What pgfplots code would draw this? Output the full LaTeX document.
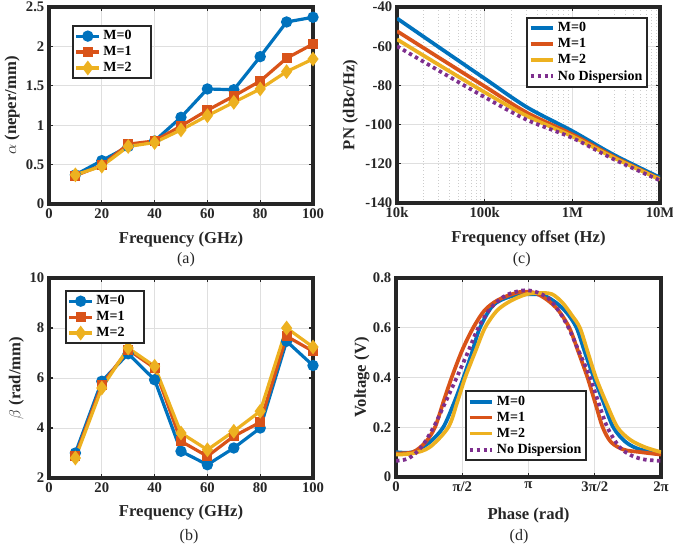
\documentclass[border=0pt]{standalone}
\usepackage{fontspec}
\setmainfont{Liberation Serif}
\usepackage{pgfplots}
\pgfplotsset{compat=1.18}
\definecolor{mblue}{RGB}{0,114,189}
\definecolor{mred}{RGB}{217,83,25}
\definecolor{myel}{RGB}{237,177,32}
\definecolor{mpur}{RGB}{126,47,142}
\definecolor{mgray}{RGB}{38,38,38}

\pgfplotsset{
  mat/.style={
    scale only axis,
    axis line style={mgray, line width=2.9pt},
    tick style={mgray, line width=0.8pt},
    major tick length=3pt,
    minor tick length=0pt,
    tick align=inside,
    grid=major,
    major grid style={gray!25, line width=0.7pt},
    ticklabel style={font=\bfseries\fontsize{11}{13}\selectfont, text=mgray},
    label style={font=\bfseries\fontsize{12.5}{15}\selectfont, text=mgray},
    legend style={font=\bfseries\fontsize{10.5}{12}\selectfont, draw=mgray,
                  line width=1.3pt, fill=white, inner sep=1.5pt, row sep=-0.5pt},
    legend cell align=left,
    /pgf/number format/assume math mode=true,
  },
  mk0/.style={mblue, line width=2.4pt, mark=*, mark size=3pt, mark options={solid, fill=mblue}},
  mk1/.style={mred, line width=2.4pt, mark=square*, mark size=2.6pt, mark options={solid, fill=mred}},
  mk2/.style={myel, line width=2.4pt, mark=diamond*, mark size=3.6pt, mark options={solid, fill=myel}},
  wideleg/.style={legend style={cells={anchor=west, text width=32pt}}},
}

\begin{document}
\begin{tikzpicture}
\useasboundingbox (0,0) rectangle (504.75pt,413.25pt);

%% (a) attenuation
\begin{axis}[mat, wideleg, at={(36.75pt,260.25pt)}, anchor=south west,
    width=198pt, height=147.75pt,
    xmin=0, xmax=100, ymin=0, ymax=2.5,
    xtick={0,20,40,60,80,100},
    ytick={0,0.5,1,1.5,2,2.5}, yticklabels={0,0.5,1,1.5,2,2.5},
    xlabel={Frequency (GHz)}, ylabel={$\alpha$ (neper/mm)},
    xlabel style={at={(axis description cs:0.5,-0.178)}, anchor=center},
    ylabel style={at={(axis description cs:-0.14,0.5)}, anchor=center},
    legend style={at={(0.087,0.909)}, anchor=north west},
]
\addplot[mk0] coordinates {(10,0.37)(20,0.55)(30,0.73)(40,0.80)(50,1.10)(60,1.46)(70,1.45)(80,1.87)(90,2.31)(100,2.37)};
\addplot[mk1] coordinates {(10,0.36)(20,0.49)(30,0.76)(40,0.80)(50,0.99)(60,1.19)(70,1.37)(80,1.56)(90,1.85)(100,2.03)};
\addplot[mk2] coordinates {(10,0.37)(20,0.48)(30,0.73)(40,0.78)(50,0.94)(60,1.12)(70,1.29)(80,1.46)(90,1.68)(100,1.84)};
\legend{M=0,M=1,M=2}
\end{axis}

%% (c) phase noise
\begin{axis}[mat, at={(297.75pt,261pt)}, anchor=south west,
    width=197.25pt, height=147pt,
    xmode=log, xmin=1e4, xmax=1e7, ymin=-140, ymax=-40,
    xtick={1e4,1e5,1e6,1e7}, xticklabels={10k,100k,1M,10M},
    minor xtick={2e4,3e4,4e4,5e4,6e4,7e4,8e4,9e4,2e5,3e5,4e5,5e5,6e5,7e5,8e5,9e5,2e6,3e6,4e6,5e6,6e6,7e6,8e6,9e6},
    ytick={-140,-120,-100,-80,-60,-40}, yticklabels={-140,-120,-100,-80,-60,-40},
    grid=both, minor grid style={gray!40, dotted, line width=0.6pt},
    xlabel={Frequency offset (Hz)}, ylabel={PN (dBc/Hz)},
    xlabel style={at={(axis description cs:0.5,-0.179)}, anchor=center},
    ylabel style={at={(axis description cs:-0.177,0.5)}, anchor=center},
    legend style={at={(0.954,0.949)}, anchor=north east},
]
\addplot[mblue, line width=2.8pt, smooth] coordinates {(1e4,-45.8)(3e4,-60.5)(1e5,-76.5)(3e5,-91)(1e6,-103.3)(3e6,-115.5)(1e7,-127)};
\addplot[mred, line width=2.8pt, smooth] coordinates {(1e4,-52.3)(3e4,-65.8)(1e5,-80.5)(3e5,-93.8)(1e6,-105)(3e6,-116.5)(1e7,-127.8)};
\addplot[myel, line width=2.8pt, smooth] coordinates {(1e4,-56.5)(3e4,-69.5)(1e5,-83.5)(3e5,-95.5)(1e6,-106)(3e6,-117)(1e7,-128)};
\addplot[mpur, line width=2.8pt, dash pattern=on 2.6pt off 2.6pt, smooth] coordinates {(1e4,-60)(3e4,-72.5)(1e5,-86)(3e5,-97.5)(1e6,-106.8)(3e6,-117.8)(1e7,-128.5)};
\legend{M=0,M=1,M=2,No Dispersion}
\end{axis}

%% (b) phase constant
\begin{axis}[mat, wideleg, at={(36.75pt,54.75pt)}, anchor=south west,
    width=198pt, height=150pt,
    xmin=0, xmax=100, ymin=2, ymax=10,
    xtick={0,20,40,60,80,100},
    ytick={2,4,6,8,10},
    xlabel={Frequency (GHz)}, ylabel={$\beta$ (rad/mm)},
    xlabel style={at={(axis description cs:0.5,-0.175)}, anchor=center},
    ylabel style={at={(axis description cs:-0.124,0.5)}, anchor=center},
    legend style={at={(0.06,0.94)}, anchor=north west},
]
\addplot[mk0] coordinates {(10,3.0)(20,5.87)(30,6.97)(40,5.93)(50,3.07)(60,2.53)(70,3.2)(80,4.0)(90,7.47)(100,6.5)};
\addplot[mk1] coordinates {(10,2.87)(20,5.73)(30,7.13)(40,6.4)(50,3.47)(60,2.87)(70,3.67)(80,4.23)(90,7.67)(100,7.07)};
\addplot[mk2] coordinates {(10,2.8)(20,5.6)(30,7.2)(40,6.47)(50,3.8)(60,3.13)(70,3.87)(80,4.67)(90,8.0)(100,7.24)};
\legend{M=0,M=1,M=2}
\end{axis}

%% (d) voltage waveform
\begin{axis}[mat, at={(297pt,55.5pt)}, anchor=south west,
    width=198.75pt, height=149.25pt,
    xmin=0, xmax=6.28319, ymin=0, ymax=0.8,
    xtick={0,1.5708,3.14159,4.71239,6.28319}, xticklabels={0,π/2,π,3π/2,2π},
    ytick={0,0.2,0.4,0.6,0.8}, yticklabels={0,0.2,0.4,0.6,0.8},
    xlabel={Phase (rad)}, ylabel={Voltage (V)},
    xlabel style={at={(axis description cs:0.5,-0.191)}, anchor=center},
    ylabel style={at={(axis description cs:-0.129,0.5)}, anchor=center},
    legend style={at={(0.26,0.08)}, anchor=south west},
]
\addplot[mblue, line width=2.8pt, smooth, tension=0.5] coordinates {(0,0.10)(0.4,0.10)(0.8,0.14)(1.12,0.2)(1.38,0.3)(1.60,0.4)(1.80,0.5)(1.99,0.6)(2.3,0.69)(2.7,0.725)(3.14,0.735)(3.5,0.73)(3.8,0.70)(4.05,0.66)(4.28,0.6)(4.48,0.5)(4.69,0.4)(4.92,0.3)(5.15,0.2)(5.45,0.14)(5.8,0.11)(6.283,0.10)};
\addplot[mred, line width=2.8pt, smooth, tension=0.5] coordinates {(0,0.095)(0.4,0.10)(0.7,0.14)(0.925,0.2)(1.12,0.30)(1.32,0.4)(1.57,0.51)(1.83,0.6)(2.1,0.67)(2.4,0.71)(2.75,0.735)(3.0,0.745)(3.3,0.74)(3.6,0.71)(3.85,0.67)(4.11,0.6)(4.33,0.5)(4.54,0.4)(4.72,0.3)(4.90,0.2)(5.1,0.14)(5.4,0.11)(5.8,0.10)(6.283,0.09)};
\addplot[myel, line width=2.8pt, smooth, tension=0.5] coordinates {(0,0.09)(0.4,0.095)(0.8,0.12)(1.24,0.2)(1.45,0.3)(1.64,0.4)(1.87,0.5)(2.11,0.6)(2.4,0.67)(2.74,0.71)(3.1,0.735)(3.4,0.74)(3.7,0.735)(3.95,0.70)(4.17,0.65)(4.36,0.6)(4.55,0.5)(4.74,0.4)(4.98,0.3)(5.25,0.2)(5.55,0.15)(5.9,0.12)(6.283,0.10)};
\addplot[mpur, line width=2.8pt, dash pattern=on 2.6pt off 2.6pt, smooth, tension=0.5] coordinates {(0,0.065)(0.3,0.075)(0.6,0.12)(0.89,0.2)(1.17,0.3)(1.44,0.4)(1.70,0.5)(1.95,0.6)(2.25,0.68)(2.6,0.73)(3.0,0.75)(3.3,0.745)(3.6,0.72)(3.85,0.67)(4.09,0.6)(4.35,0.5)(4.60,0.4)(4.80,0.3)(5.01,0.2)(5.3,0.12)(5.6,0.085)(5.9,0.07)(6.283,0.065)};
\legend{M=0,M=1,M=2,No Dispersion}
\end{axis}

\node[font=\fontsize{12}{14}\selectfont, text=mgray] at (139.5pt,218.25pt) {(a)};
\node[font=\fontsize{12}{14}\selectfont, text=mgray] at (391.3pt,218.25pt) {(c)};
\node[font=\fontsize{12}{14}\selectfont, text=mgray] at (141.75pt,10.75pt) {(b)};
\node[font=\fontsize{12}{14}\selectfont, text=mgray] at (389.25pt,10.75pt) {(d)};
\end{tikzpicture}
\end{document}
